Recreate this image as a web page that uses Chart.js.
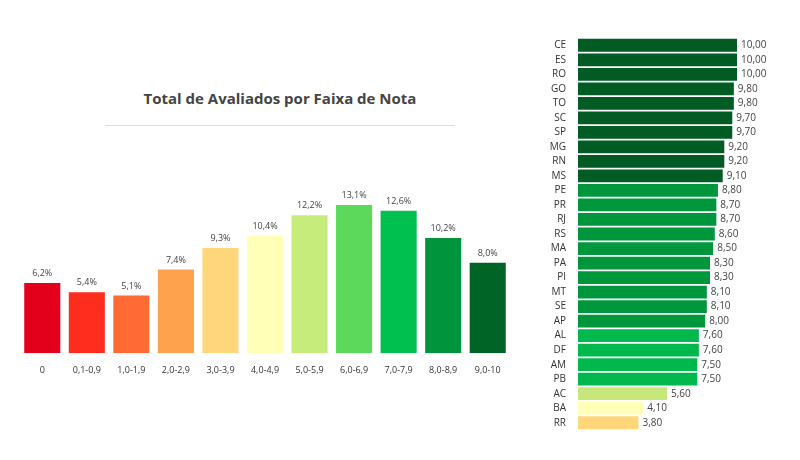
<!DOCTYPE html>
<html>
<head>
<meta charset="utf-8">
<script src="https://cdn.jsdelivr.net/npm/chart.js@4/dist/chart.umd.min.js"></script>
<style>
  body { margin: 0; width: 800px; height: 460px; background: #fff; position: relative; font-family: "Open Sans", sans-serif; overflow: hidden; }
  #title { position: absolute; left: 80px; width: 400px; top: 88px; text-align: center; font-size: 15px; font-weight: bold; color: #444; }
  #rule { position: absolute; left: 105px; width: 350px; top: 125px; border-top: 1px solid #ddd; }
  #leftBox { position: absolute; left: 20px; top: 190px; width: 490px; height: 190px; }
  #rightBox { position: absolute; left: 540px; top: 28px; width: 250px; height: 412px; }
</style>
</head>
<body>
<div id="title">Total de Avaliados por Faixa de Nota</div>
<div id="rule"></div>
<div id="leftBox"><canvas id="faixaChart"></canvas></div>
<div id="rightBox"><canvas id="ufChart"></canvas></div>
<script>
/* --- Data --- */
var faixas = ['0', '0,1-0,9', '1,0-1,9', '2,0-2,9', '3,0-3,9', '4,0-4,9', '5,0-5,9', '6,0-6,9', '7,0-7,9', '8,0-8,9', '9,0-10'];
var percentuais = [6.2, 5.4, 5.1, 7.4, 9.3, 10.4, 12.2, 13.1, 12.6, 10.2, 8.0];
var faixaCores = ['#e2001a', '#ff2d1e', '#ff6a35', '#ffa24d', '#ffd67a', '#ffffb8', '#c6ec7c', '#5cd95a', '#00c050', '#00953c', '#006427'];

var estados = ['CE', 'ES', 'RO', 'GO', 'TO', 'SC', 'SP', 'MG', 'RN', 'MS', 'PE', 'PR', 'RJ', 'RS', 'MA', 'PA', 'PI', 'MT', 'SE', 'AP', 'AL', 'DF', 'AM', 'PB', 'AC', 'BA', 'RR'];
var notas = [10, 10, 10, 9.8, 9.8, 9.7, 9.7, 9.2, 9.2, 9.1, 8.8, 8.7, 8.7, 8.6, 8.5, 8.3, 8.3, 8.1, 8.1, 8.0, 7.6, 7.6, 7.5, 7.5, 5.6, 4.1, 3.8];

function corNota(v) {
  if (v >= 9) return '#005c22';
  if (v >= 8) return '#00963c';
  if (v >= 7) return '#00b84c';
  if (v >= 5) return '#c6e87a';
  if (v >= 4) return '#ffffb8';
  return '#ffd67a';
}

function fmt(v, d) { return v.toFixed(d).replace('.', ','); }

/* --- Value label plugin --- */
var valueLabels = {
  id: 'valueLabels',
  afterDatasetsDraw: function (chart, args, opts) {
    var ctx = chart.ctx;
    var meta = chart.getDatasetMeta(0);
    var data = chart.data.datasets[0].data;
    ctx.save();
    ctx.font = '9px "Open Sans", sans-serif';
    ctx.fillStyle = '#444';
    meta.data.forEach(function (bar, i) {
      if (opts.horizontal) {
        ctx.textAlign = 'left'; ctx.textBaseline = 'middle';
        ctx.font = '10px "Open Sans", sans-serif';
        ctx.fillText(fmt(data[i], 2), bar.x + 4, bar.y);
      } else {
        ctx.textAlign = 'center'; ctx.textBaseline = 'bottom';
        ctx.fillText(fmt(data[i], 1) + '%', bar.x, bar.y - 5);
      }
    });
    ctx.restore();
  }
};

Chart.defaults.font.family = '"Open Sans", sans-serif';
Chart.defaults.animation = false;

new Chart(document.getElementById('faixaChart'), {
  type: 'bar',
  data: {
    labels: faixas,
    datasets: [{ data: percentuais, backgroundColor: faixaCores, barPercentage: 1, categoryPercentage: 0.81 }]
  },
  options: {
    responsive: true,
    maintainAspectRatio: false,
    layout: { padding: { top: 10, left: 0, right: 0 } },
    plugins: { legend: { display: false }, tooltip: { enabled: false }, valueLabels: { horizontal: false } },
    scales: {
      x: { grid: { display: false }, border: { display: false }, ticks: { color: '#333', font: { size: 9 }, maxRotation: 0, padding: 4 } },
      y: { display: false, min: 0, max: 13.55 }
    }
  },
  plugins: [valueLabels]
});

new Chart(document.getElementById('ufChart'), {
  type: 'bar',
  data: {
    labels: estados,
    datasets: [{ data: notas, backgroundColor: notas.map(corNota), barPercentage: 1, categoryPercentage: 0.88 }]
  },
  options: {
    indexAxis: 'y',
    responsive: true,
    maintainAspectRatio: false,
    layout: { padding: { top: 7, bottom: 8, right: 0 } },
    plugins: { legend: { display: false }, tooltip: { enabled: false }, valueLabels: { horizontal: true } },
    scales: {
      x: { display: false, min: 0, max: 13.33 },
      y: {
        grid: { display: false }, border: { display: false },
        ticks: { color: '#333', font: { size: 10 }, padding: 4, autoSkip: false },
        afterFit: function (s) { s.width = 38; }
      }
    }
  },
  plugins: [valueLabels]
});
</script>
</body>
</html>
